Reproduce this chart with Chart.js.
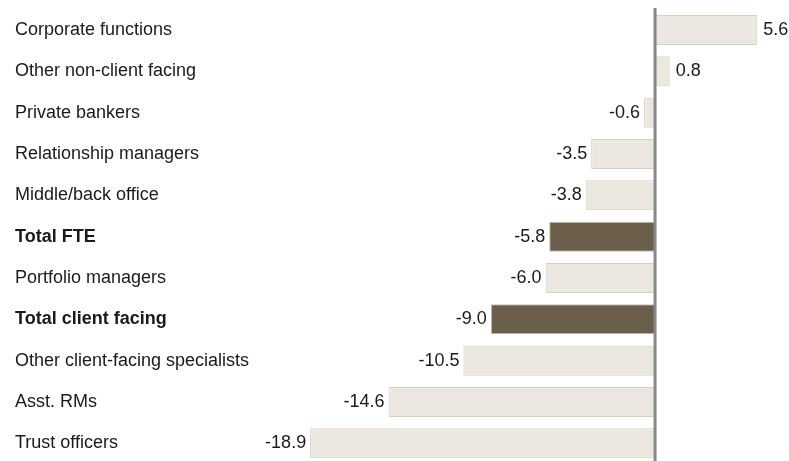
<!DOCTYPE html>
<html>
<head>
<meta charset="utf-8">
<script src="https://cdn.jsdelivr.net/npm/chart.js@4.4.1/dist/chart.umd.min.js"></script>
<style>
  html, body { margin: 0; padding: 0; background: #fff; overflow: hidden; }
  #wrap { width: 789px; height: 464px; }
</style>
</head>
<body>
<div id="wrap"><canvas id="barChart"></canvas></div>
<script>
// =========================
// Données
// =========================

const categories = [
  'Corporate functions',
  'Other non-client facing',
  'Private bankers',
  'Relationship managers',
  'Middle/back office',
  'Total FTE',
  'Portfolio managers',
  'Total client facing',
  'Other client-facing specialists',
  'Asst. RMs',
  'Trust officers'
];
const values = [5.6, 0.8, -0.6, -3.5, -3.8, -5.8, -6.0, -9.0, -10.5, -14.6, -18.9];
const totalRows = ['Total FTE', 'Total client facing'];

const FONT = 'Arial, "Liberation Sans", sans-serif';
const isTotal = (i) => totalRows.includes(categories[i]);

// étiquettes de valeurs au bout des barres
const valueLabels = {
  id: 'valueLabels',
  afterDatasetsDraw(chart) {
    const ctx = chart.ctx;
    const meta = chart.getDatasetMeta(0);
    ctx.save();
    ctx.font = '18px ' + FONT;
    ctx.fillStyle = '#1a1a1a';
    ctx.textBaseline = 'middle';
    meta.data.forEach((bar, i) => {
      const v = values[i];
      const txt = v.toFixed(1);
      if (v >= 0) {
        ctx.textAlign = 'left';
        ctx.fillText(txt, bar.x + 6, bar.y);
      } else {
        ctx.textAlign = 'right';
        ctx.fillText(txt, bar.x - 4, bar.y);
      }
    });
    ctx.restore();
  }
};

// ligne verticale du zéro
const zeroLine = {
  id: 'zeroLine',
  afterDatasetsDraw(chart) {
    const ctx = chart.ctx;
    const x = chart.scales.x.getPixelForValue(0);
    ctx.save();
    ctx.strokeStyle = '#888888';
    ctx.lineWidth = 3;
    ctx.beginPath();
    ctx.moveTo(x, 8);
    ctx.lineTo(x, chart.height);
    ctx.stroke();
    ctx.restore();
  }
};

new Chart(document.getElementById('barChart'), {
  type: 'bar',
  data: {
    labels: categories,
    datasets: [{
      data: values,
      backgroundColor: categories.map((c, i) => isTotal(i) ? '#6b5f4c' : '#ece8e1'),
      borderColor: categories.map((c, i) => isTotal(i) ? '#c9bfae' : '#d8cfbd'),
      borderWidth: 1,
      borderSkipped: false,
      barPercentage: 0.725,
      categoryPercentage: 1
    }]
  },
  options: {
    indexAxis: 'y',
    responsive: true,
    maintainAspectRatio: false,
    animation: false,
    layout: { padding: { left: 15, right: 0, top: 9.3, bottom: 0 } },
    plugins: {
      legend: { display: false },
      tooltip: { enabled: false }
    },
    scales: {
      x: {
        min: -19.73,
        max: 7.34,
        display: false
      },
      y: {
        border: { display: false },
        grid: { display: false },
        afterFit: (scale) => { scale.width = 280; scale.paddingTop = 0; scale.paddingBottom = 0; },
        ticks: {
          crossAlign: 'far',
          padding: 0,
          color: '#1a1a1a',
          font: (ctx) => ({ family: FONT, size: 18, lineHeight: 0.1, weight: isTotal(ctx.index) ? 'bold' : 'normal' })
        }
      }
    }
  },
  plugins: [valueLabels, zeroLine]
});
</script>
</body>
</html>
